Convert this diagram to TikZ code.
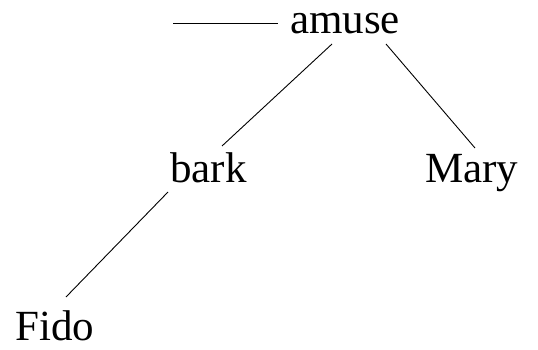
\documentclass[tikz,border=0pt]{standalone}
\usepackage{fontspec}
\setmainfont{Liberation Serif}
\begin{document}
\begin{tikzpicture}[x=1pt,y=1pt,
  word/.style={inner sep=0pt,anchor=base west,font=\fontsize{43}{50}\selectfont},
  edge/.style={line width=0.9pt}]
\useasboundingbox (0,0) rectangle (538,349);
\node[word] (amuse) at (290,316) {amuse};
\node[word] (bark) at (170,167) {bark};
\node[word] (mary) at (425,167) {Mary};
\node[word] (fido) at (15,9) {Fido};
\coordinate (lft) at (173,326);
\draw[edge] (lft) -- ([shift={(-12pt,10pt)}]amuse.base west);
\draw[edge] ([shift={(42pt,-11pt)}]amuse.base west) -- ([shift={(52pt,36pt)}]bark.base west);
\draw[edge] ([shift={(96pt,-11pt)}]amuse.base west) -- ([shift={(50pt,34pt)}]mary.base west);
\draw[edge] ([shift={(-2pt,-10pt)}]bark.base west) -- ([shift={(51pt,43pt)}]fido.base west);
\end{tikzpicture}
\end{document}
